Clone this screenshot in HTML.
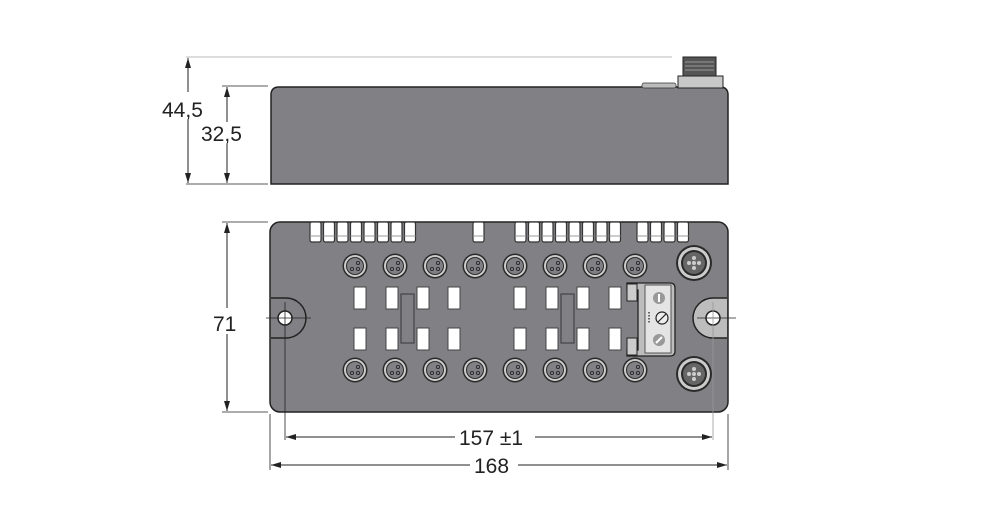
<!DOCTYPE html>
<html><head><meta charset="utf-8"><style>
html,body{margin:0;padding:0;background:#fff;}
svg{display:block;}
text{font-family:"Liberation Sans",sans-serif;fill:#222;}
</style></head><body>
<svg width="996" height="511" viewBox="0 0 996 511" xmlns="http://www.w3.org/2000/svg">
<defs>
<marker id="a" viewBox="0 0 10 6" refX="10" refY="3" markerWidth="10" markerHeight="6" orient="auto-start-reverse" markerUnits="userSpaceOnUse"><path d="M0,0 L10,3 L0,6 z" fill="#222"/></marker>
<g id="c">
<circle r="12.5" fill="#2a2a2a"/><circle r="11" fill="#ccc"/><circle r="9" fill="#2a2a2a"/><circle r="8" fill="#808085"/>
<circle cx="-3" cy="3" r="1.6" fill="none" stroke="#222" stroke-width="0.8"/><circle cx="3" cy="3" r="1.6" fill="none" stroke="#222" stroke-width="0.8"/><circle cx="3" cy="-3" r="1.6" fill="none" stroke="#222" stroke-width="0.8"/>
</g>
<g id="t"><rect x="0" y="0" width="11" height="20" rx="2" fill="#fff" stroke="#333" stroke-width="1.2"/><line x1="0" y1="14" x2="11" y2="14" stroke="#999"/></g>
<g id="b"><circle r="18" fill="#2a2a2a"/><circle r="16" fill="#ccc"/><circle r="13" fill="#2a2a2a"/><circle r="11" fill="#666"/>
<circle r="2" fill="#ccc"/><circle cx="5" r="2" fill="#ccc"/><circle cx="-5" r="2" fill="#ccc"/><circle cy="5" r="2" fill="#ccc"/><circle cy="-5" r="2" fill="#ccc"/></g>
</defs>

<!-- side view -->
<line x1="186" y1="57" x2="672" y2="57" stroke="#bbb" stroke-width="1"/>
<line x1="186" y1="184" x2="268" y2="184" stroke="#222" stroke-width="0.8"/>
<line x1="222" y1="86" x2="268" y2="86" stroke="#222" stroke-width="0.8"/>
<line x1="188" y1="58" x2="188" y2="183" stroke="#222" stroke-width="1" marker-start="url(#a)" marker-end="url(#a)"/>
<line x1="227" y1="87" x2="227" y2="183" stroke="#222" stroke-width="1" marker-start="url(#a)" marker-end="url(#a)"/>
<rect x="162" y="92" width="28" height="28" fill="#fff"/>
<text x="162" y="117" font-size="21">44,5</text>
<rect x="200" y="122" width="36" height="22" fill="#fff"/>
<text x="201" y="141" font-size="21">32,5</text>
<path d="M279,87 H720 Q728,87 728,95 V184 H271 V95 Q271,87 279,87 Z" fill="#818185" stroke="#222" stroke-width="1.5"/>
<rect x="678" y="76" width="45" height="12" fill="#c8c8c8" stroke="#222"/>
<rect x="683" y="57" width="33" height="19" fill="#555" stroke="#222"/>
<path d="M685,62 H714 M685,66 H714 M685,70 H714" stroke="#999"/>
<rect x="642" y="83" width="34" height="5" rx="2" fill="#bbb" stroke="#333" stroke-width="0.7"/>

<!-- top view -->
<line x1="222" y1="222" x2="268" y2="222" stroke="#222" stroke-width="0.8"/>
<line x1="222" y1="412" x2="268" y2="412" stroke="#222" stroke-width="0.8"/>
<line x1="227" y1="223" x2="227" y2="411" stroke="#222" stroke-width="1" marker-start="url(#a)" marker-end="url(#a)"/>
<rect x="212" y="308" width="30" height="26" fill="#fff"/>
<text x="213" y="331" font-size="21">71</text>

<rect x="270" y="222" width="458" height="190" rx="10" fill="#818185" stroke="#222" stroke-width="1.5"/>

<g>
<use href="#t" x="310" y="222"/><use href="#t" x="323.5" y="222"/><use href="#t" x="337" y="222"/><use href="#t" x="350.5" y="222"/><use href="#t" x="364" y="222"/><use href="#t" x="377.5" y="222"/><use href="#t" x="391" y="222"/><use href="#t" x="404.5" y="222"/>
<use href="#t" x="473" y="222"/>
<use href="#t" x="515" y="222"/><use href="#t" x="528.5" y="222"/><use href="#t" x="542" y="222"/><use href="#t" x="555.5" y="222"/><use href="#t" x="569" y="222"/><use href="#t" x="582.5" y="222"/><use href="#t" x="596" y="222"/><use href="#t" x="609.5" y="222"/>
<use href="#t" x="637" y="222"/><use href="#t" x="650.5" y="222"/><use href="#t" x="664" y="222"/><use href="#t" x="677.5" y="222"/>
</g>

<g>
<use href="#c" x="355" y="266"/><use href="#c" x="395" y="266"/><use href="#c" x="435" y="266"/><use href="#c" x="475" y="266"/><use href="#c" x="515" y="266"/><use href="#c" x="555" y="266"/><use href="#c" x="595" y="266"/><use href="#c" x="635" y="266"/>
<use href="#c" x="355" y="370"/><use href="#c" x="395" y="370"/><use href="#c" x="435" y="370"/><use href="#c" x="475" y="370"/><use href="#c" x="515" y="370"/><use href="#c" x="555" y="370"/><use href="#c" x="595" y="370"/><use href="#c" x="635" y="370"/>
</g>
<use href="#b" x="694" y="263"/>
<use href="#b" x="694" y="374"/>

<g fill="#fff" stroke="#444" stroke-width="1">
<rect x="354" y="287" width="12" height="22"/><rect x="386" y="287" width="12" height="22"/><rect x="417" y="287" width="12" height="22"/><rect x="448" y="287" width="12" height="22"/>
<rect x="354" y="328" width="12" height="22"/><rect x="386" y="328" width="12" height="22"/><rect x="417" y="328" width="12" height="22"/><rect x="448" y="328" width="12" height="22"/>
<rect x="514" y="287" width="12" height="22"/><rect x="546" y="287" width="12" height="22"/><rect x="577" y="287" width="12" height="22"/><rect x="609" y="287" width="12" height="22"/>
<rect x="514" y="328" width="12" height="22"/><rect x="546" y="328" width="12" height="22"/><rect x="577" y="328" width="12" height="22"/><rect x="609" y="328" width="12" height="22"/>
</g>
<rect x="401" y="294" width="13" height="49" fill="none" stroke="#444" stroke-width="1.2"/>
<rect x="561" y="294" width="13" height="49" fill="none" stroke="#444" stroke-width="1.2"/>

<path d="M627,283 H670 Q675,283 675,288 V351 Q675,356 670,356 H627 V350 H638 V290 H627 Z" fill="#bdbdbd" stroke="#222" stroke-width="1.3"/>
<rect x="627" y="284" width="10" height="17" fill="#ccc" stroke="#222"/>
<rect x="627" y="338" width="10" height="17" fill="#ccc" stroke="#222"/>
<rect x="645" y="285" width="26" height="68" fill="#e4e4e4" stroke="#555"/>
<circle cx="659" cy="298" r="6" fill="#999"/><line x1="659" y1="294" x2="659" y2="302" stroke="#fff" stroke-width="2"/>
<circle cx="662" cy="318" r="6" fill="#eee" stroke="#222" stroke-width="1.2"/><line x1="658" y1="322" x2="666" y2="314" stroke="#222" stroke-width="1.2"/>
<circle cx="659" cy="340" r="6" fill="#999"/><line x1="656" y1="343" x2="662" y2="337" stroke="#fff" stroke-width="2"/>
<path d="M649,312 V324" stroke="#666" stroke-dasharray="1.5,1.5" stroke-width="2"/>

<path d="M271,298 H286 A20,20 0 0 1 286,338 H271" fill="none" stroke="#222" stroke-width="1.5"/>
<path d="M727,298 H713 A20,20 0 0 0 713,338 H727" fill="#bdbdbd" stroke="#222" stroke-width="1.5"/>
<circle cx="285" cy="318" r="7" fill="#fff" stroke="#222" stroke-width="1.5"/>
<circle cx="713" cy="318" r="7" fill="#fff" stroke="#222" stroke-width="1.5"/>
<line x1="266" y1="318" x2="311" y2="318" stroke="#222" stroke-width="0.8"/>
<line x1="697" y1="318" x2="736" y2="318" stroke="#222" stroke-width="0.8"/>
<line x1="285" y1="302" x2="285" y2="440" stroke="#222" stroke-width="0.8"/>
<line x1="713" y1="302" x2="713" y2="440" stroke="#999" stroke-width="0.8"/>

<line x1="270" y1="414" x2="270" y2="470" stroke="#222" stroke-width="0.8"/>
<line x1="728" y1="414" x2="728" y2="470" stroke="#222" stroke-width="0.8"/>
<line x1="286" y1="437" x2="712" y2="437" stroke="#222" stroke-width="1" marker-start="url(#a)" marker-end="url(#a)"/>
<line x1="271" y1="465" x2="727" y2="465" stroke="#222" stroke-width="1" marker-start="url(#a)" marker-end="url(#a)"/>
<rect x="455" y="425" width="80" height="26" fill="#fff"/>
<text x="459" y="445" font-size="21">157 ±1</text>
<rect x="470" y="453" width="48" height="26" fill="#fff"/>
<text x="474" y="473" font-size="21">168</text>
</svg>
</body></html>
